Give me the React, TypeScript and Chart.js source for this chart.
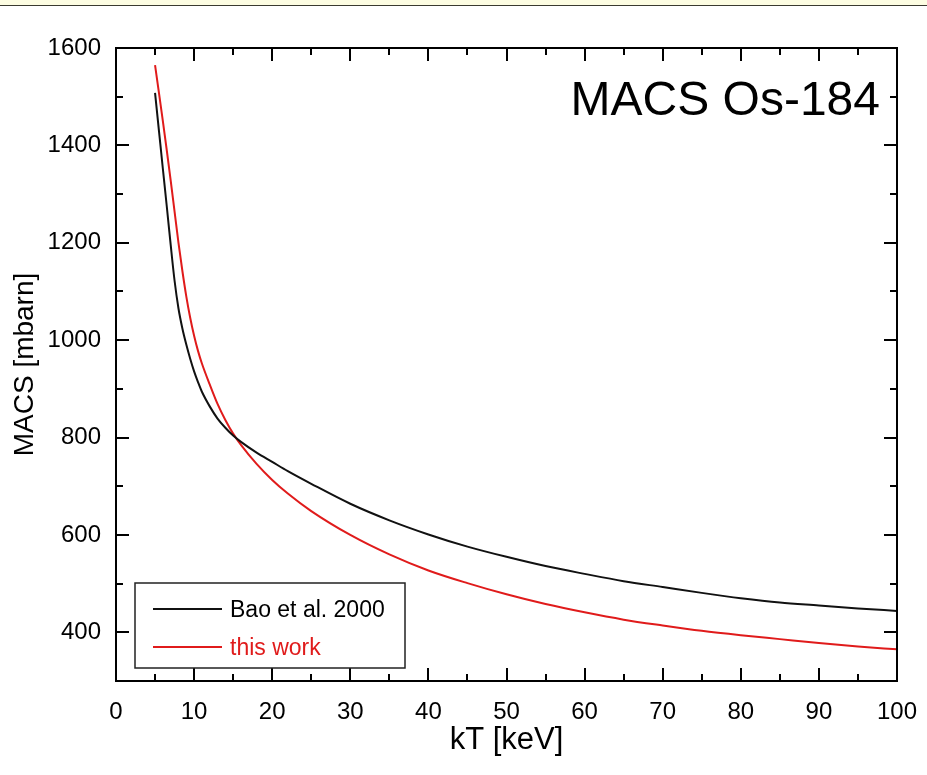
import React, { useEffect, useRef } from 'react';
import { Chart, registerables } from 'chart.js';

Chart.register(...registerables);

const kT = [5, 5.5, 6, 6.5, 7, 7.5, 8, 8.5, 9, 9.5, 10, 10.5, 11, 12, 13, 14, 15, 16, 18, 20, 22, 25, 30, 35, 40, 45, 50, 55, 60, 65, 70, 75, 80, 85, 90, 95, 100];
const baoValues = [1508, 1430, 1352, 1275, 1196, 1122, 1065, 1024, 991, 962, 936, 914, 894, 864, 839, 820, 804, 791, 769, 750, 731, 705, 664, 630, 601, 576, 555, 536, 520, 505, 493, 481, 470, 461, 455, 449, 444];
const thisWorkValues = [1565, 1508, 1450, 1390, 1328, 1264, 1200, 1142, 1090, 1046, 1009, 978, 952, 909, 869, 836, 808, 785, 746, 713, 685, 649, 600, 560, 527, 501, 478, 458, 441, 426, 414, 403, 394, 386, 378, 371, 365];

const seriesNames = ['Bao et al. 2000', 'this work'];
const seriesColors = ['#111111', '#e01b1b'];

const xTickLabels = [0, 10, 20, 30, 40, 50, 60, 70, 80, 90, 100];
const xMinorTicks = [5, 15, 25, 35, 45, 55, 65, 75, 85, 95];
const yTickLabels = [400, 600, 800, 1000, 1200, 1400, 1600];
const yMinorTicks = [300, 500, 700, 900, 1100, 1300, 1500];

const plotTitle = 'MACS Os-184';
const xTitle = 'kT [keV]';
const yTitle = 'MACS [mbarn]';

const FONT = '"Liberation Sans", Arial, Helvetica, sans-serif';

const framePlugin = {
  id: 'frame',
  afterDatasetsDraw(chart: any) {
    const { ctx, chartArea: a, scales } = chart;
    const xs = scales.x;
    const ys = scales.y;
    ctx.save();
    ctx.strokeStyle = '#000';
    ctx.lineWidth = 2;
    ctx.strokeRect(a.left, a.top, a.right - a.left, a.bottom - a.top);
    ctx.beginPath();
    const xt = (v: number, len: number) => {
      const p = Math.round(xs.getPixelForValue(v));
      ctx.moveTo(p, a.bottom);
      ctx.lineTo(p, a.bottom - len);
      ctx.moveTo(p, a.top);
      ctx.lineTo(p, a.top + len);
    };
    const yt = (v: number, len: number) => {
      const p = Math.round(ys.getPixelForValue(v));
      ctx.moveTo(a.left, p);
      ctx.lineTo(a.left + len, p);
      ctx.moveTo(a.right, p);
      ctx.lineTo(a.right - len, p);
    };
    xTickLabels.forEach((v) => xt(v, 13));
    xMinorTicks.forEach((v) => xt(v, 7));
    yTickLabels.forEach((v) => yt(v, 13));
    yMinorTicks.forEach((v) => yt(v, 7));
    ctx.stroke();

    // plot title inside the frame
    ctx.fillStyle = '#000';
    ctx.font = `48px ${FONT}`;
    ctx.textAlign = 'right';
    ctx.textBaseline = 'alphabetic';
    ctx.fillText(plotTitle, a.right - 17, a.top + 67);

    // legend box
    const bx = a.left + 19;
    const by = a.bottom - 98;
    const bw = 270;
    const bh = 85;
    ctx.fillStyle = '#fff';
    ctx.fillRect(bx, by, bw, bh);
    ctx.lineWidth = 1.5;
    ctx.strokeStyle = '#222';
    ctx.strokeRect(bx, by, bw, bh);
    ctx.font = `23px ${FONT}`;
    ctx.textAlign = 'left';
    ctx.textBaseline = 'middle';
    chart.data.datasets.forEach((ds: any, i: number) => {
      const ly = by + 26 + i * 38;
      ctx.strokeStyle = ds.borderColor;
      ctx.lineWidth = 2;
      ctx.beginPath();
      ctx.moveTo(bx + 18, ly);
      ctx.lineTo(bx + 87, ly);
      ctx.stroke();
      ctx.fillStyle = i === 0 ? '#000' : ds.borderColor;
      ctx.fillText(ds.label, bx + 95, ly + 2);
    });
    ctx.restore();
  },
};

export default function App() {
  const ref = useRef<HTMLCanvasElement | null>(null);

  useEffect(() => {
    if (!ref.current) return;
    const series = [baoValues, thisWorkValues];
    const chart = new Chart(ref.current, {
      type: 'line',
      data: {
        datasets: series.map((vals, i) => ({
          label: seriesNames[i],
          data: kT.map((x, j) => ({ x, y: vals[j] })),
          borderColor: seriesColors[i],
          borderWidth: 2,
          pointRadius: 0,
          fill: false,
          cubicInterpolationMode: 'monotone' as const,
        })),
      },
      options: {
        responsive: false,
        animation: false,
        layout: { padding: { top: 48, right: 30, left: 0, bottom: 0 } },
        plugins: {
          legend: { display: false },
          tooltip: { enabled: false },
          title: { display: false },
        },
        scales: {
          x: {
            type: 'linear',
            min: 0,
            max: 100,
            afterBuildTicks: (s: any) => {
              s.ticks = xTickLabels.map((v) => ({ value: v }));
            },
            afterFit: (s: any) => {
              s.height = 94;
              s.paddingRight = 0;
              s.paddingLeft = 0;
            },
            grid: { display: false, drawTicks: false },
            border: { display: false },
            ticks: {
              color: '#000',
              padding: 17,
              maxRotation: 0,
              callback: (v: any) => String(v),
              font: { family: FONT, size: 24 },
            },
            title: {
              display: true,
              text: xTitle,
              color: '#000',
              font: { family: FONT, size: 31 },
              padding: { top: 0, bottom: 16 },
            },
          },
          y: {
            type: 'linear',
            min: 300,
            max: 1600,
            afterBuildTicks: (s: any) => {
              s.ticks = yTickLabels.map((v) => ({ value: v }));
            },
            afterFit: (s: any) => {
              s.width = 116;
              s.paddingTop = 0;
              s.paddingBottom = 0;
            },
            grid: { display: false, drawTicks: false },
            border: { display: false },
            ticks: {
              color: '#000',
              padding: 15,
              callback: (v: any) => String(v),
              font: { family: FONT, size: 24 },
            },
            title: {
              display: true,
              text: yTitle,
              color: '#000',
              font: { family: FONT, size: 28 },
              padding: { top: 8, bottom: 0 },
            },
          },
        },
      },
      plugins: [framePlugin],
    });
    return () => chart.destroy();
  }, []);

  return (
    <div style={{ position: 'fixed', left: 0, top: 0, width: 927, height: 775, background: '#fff' }}>
      <div style={{ position: 'absolute', left: 0, top: 0, width: 927, height: 5, background: '#fdfde2', borderBottom: '1.5px solid #3a3a30' }} />
      <canvas ref={ref} width={927} height={775} style={{ display: 'block', width: 927, height: 775 }} />
    </div>
  );
}
